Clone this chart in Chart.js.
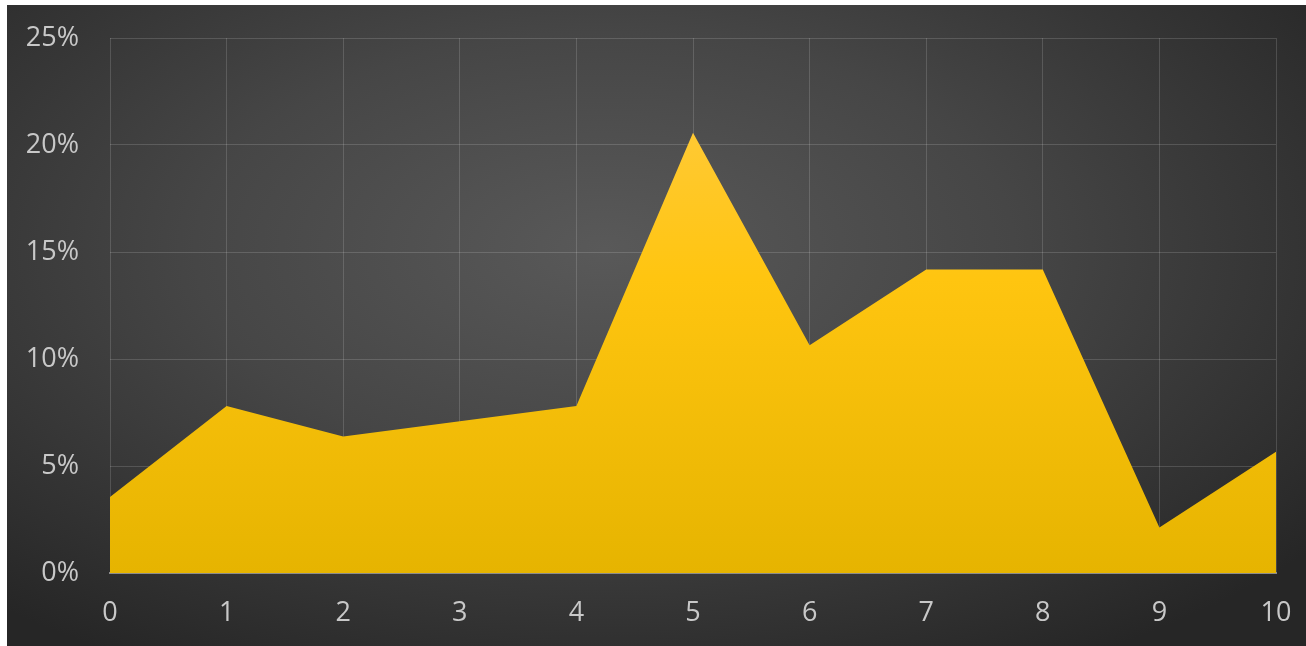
<!DOCTYPE html>
<html>
<head>
<meta charset="utf-8">
<script src="https://cdn.jsdelivr.net/npm/chart.js@4"></script>
<style>
  html, body { margin: 0; padding: 0; background: #fff; }
  #wrap {
    position: absolute;
    left: 7px;
    top: 5px;
    width: 1299px;
    height: 641px;
    background: radial-gradient(ellipse 70% 75% at 46% 38%, #595959 0%, #464646 45%, #262626 100%);
  }
</style>
</head>
<body>
<div id="wrap"><canvas id="share"></canvas></div>
<script>
const categories = ["0", "1", "2", "3", "4", "5", "6", "7", "8", "9", "10"];
const shares = [0.0355, 0.0780, 0.0638, 0.0709, 0.0780, 0.2057, 0.1064, 0.1418, 0.1418, 0.0213, 0.0567];
const yTicks = [0, 0.05, 0.10, 0.15, 0.20, 0.25];

const labelFont = { family: "'Open Sans', 'Noto Sans', sans-serif", size: 27 };
const labelColor = "#c8c8c8";

// soft dark shadow under the filled area
const areaShadow = {
  id: "areaShadow",
  beforeDatasetDraw(chart) {
    const ctx = chart.ctx;
    ctx.save();
    ctx.shadowColor = "rgba(0, 0, 0, 0.65)";
    ctx.shadowBlur = 12;
    ctx.shadowOffsetX = 0;
    ctx.shadowOffsetY = 0;
  },
  afterDatasetDraw(chart) {
    chart.ctx.restore();
  }
};

function areaFill(context) {
  const area = context.chart.chartArea;
  if (!area) return "#ffc400";
  const g = context.chart.ctx.createLinearGradient(0, area.top, 0, area.bottom);
  g.addColorStop(0, "#ffcc4a");
  g.addColorStop(0.45, "#ffc510");
  g.addColorStop(1, "#e6b400");
  return g;
}

new Chart(document.getElementById("share"), {
  type: "line",
  data: {
    labels: categories,
    datasets: [{
      data: shares,
      fill: "origin",
      backgroundColor: areaFill,
      borderWidth: 0,
      borderColor: "rgba(0,0,0,0)",
      pointRadius: 0,
      tension: 0
    }]
  },
  options: {
    responsive: true,
    maintainAspectRatio: false,
    animation: false,
    layout: { padding: { top: 33, right: 30, left: 0, bottom: 0 } },
    plugins: { legend: { display: false }, tooltip: { enabled: false } },
    scales: {
      x: {
        offset: false,
        grid: { color: "rgba(255,255,255,0.15)", lineWidth: 1, drawTicks: false },
        border: { color: "#8c8c8c", width: 2 },
        ticks: { color: labelColor, font: labelFont, padding: 24, maxRotation: 0 },
        afterFit: s => {
          s.height = 73;
          s.paddingLeft = 0;
          s.paddingRight = 0;
        }
      },
      y: {
        min: 0,
        max: 0.25,
        afterBuildTicks: s => { s.ticks = yTicks.map(v => ({ value: v })); },
        grid: { color: "rgba(255,255,255,0.15)", lineWidth: 1, drawTicks: false },
        border: { display: false },
        ticks: {
          color: labelColor,
          font: labelFont,
          padding: 31,
          callback: v => Math.round(v * 100) + "%"
        },
        afterFit: s => {
          s.width = 103;
          s.paddingTop = 0;
          s.paddingBottom = 0;
        }
      }
    }
  },
  plugins: [areaShadow]
});
</script>
</body>
</html>
